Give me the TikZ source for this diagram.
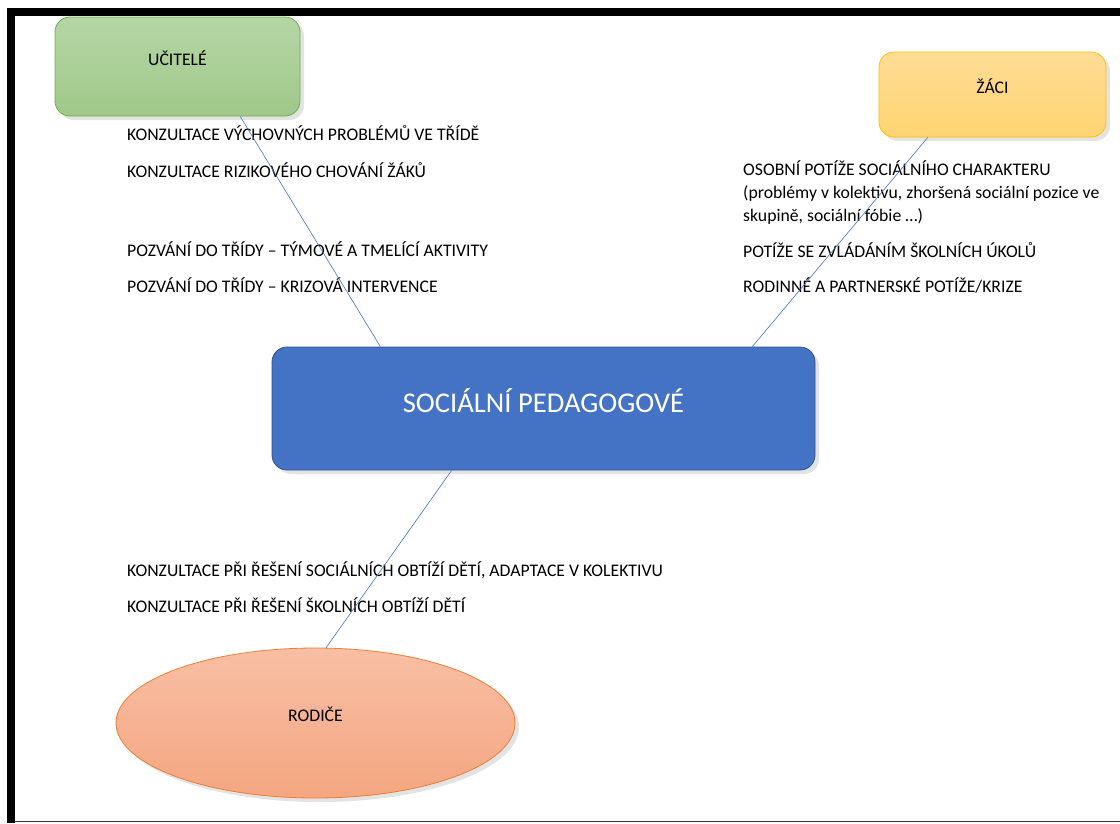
\documentclass[tikz,border=0pt]{standalone}
\usepackage{fontspec}
\setmainfont{Carlito}
\usetikzlibrary{%
  positioning
 ,shapes
 ,shadows
 ,calc
}
\definecolor{grnTop}{HTML}{B5D6A5}
\definecolor{grnBot}{HTML}{A0C88A}
\definecolor{grnLine}{HTML}{70AD47}
\definecolor{ylwTop}{HTML}{FFDC96}
\definecolor{ylwBot}{HTML}{FFD471}
\definecolor{ylwLine}{HTML}{FFC000}
\definecolor{bluFill}{HTML}{4472C4}
\definecolor{bluLine}{HTML}{2F528F}
\definecolor{orgTop}{HTML}{F8BFA4}
\definecolor{orgBot}{HTML}{F4A681}
\definecolor{orgLine}{HTML}{ED7D31}
\tikzstyle{shp}=[draw,line width=0.8pt,text height=8pt,text depth=11pt,
  font=\fontsize{17.7}{20}\selectfont,
  drop shadow={shadow xshift=4pt,shadow yshift=-4pt,opacity=0.22}]
\tikzstyle{rbox}=[shp,rectangle,rounded corners=15pt]
\tikzstyle{txt}=[anchor=west,inner sep=0pt,align=left,
  font=\fontsize{17.7}{23}\selectfont]
\tikzstyle{lnk}=[draw=bluFill,line width=0.6pt]

\begin{document}
\begin{tikzpicture}[x=1pt,y=-1pt]
  \useasboundingbox (0,0) rectangle (1120,823);
  % frame
  \fill[black] (7,8) rectangle (1120,16);
  \fill[black] (7,8) rectangle (15,823);
  \draw[black!80,line width=1.2pt] (15,821.5) -- (1120,821.5);
  % boxes
  \node[rbox,draw=grnLine,top color=grnTop,bottom color=grnBot,
        minimum width=245pt,minimum height=99pt] (uc) at (177.5,66.5) {UČITELÉ};
  \node[rbox,draw=ylwLine,top color=ylwTop,bottom color=ylwBot,
        minimum width=227pt,minimum height=85pt] (za) at (992.5,94.5) {ŽÁCI};
  \node[rbox,draw=bluLine,fill=bluFill,text=white,
        font=\fontsize{28.6}{32}\selectfont,text height=15pt,text depth=7.5pt,
        minimum width=543pt,minimum height=123pt] (soc) at (543.5,408.5) {SOCIÁLNÍ PEDAGOGOVÉ};
  \node[shp,ellipse,draw=orgLine,top color=orgTop,bottom color=orgBot,
        minimum width=399pt,minimum height=150pt] (rod) at (315.5,723) {RODIČE};
  % texts
  \node[txt] (u1) at (127,133) {KONZULTACE VÝCHOVNÝCH PROBLÉMŮ VE TŘÍDĚ};
  \node[txt] (u2) at (127,170) {KONZULTACE RIZIKOVÉHO CHOVÁNÍ ŽÁKŮ};
  \node[txt] (u3) at (127,249) {POZVÁNÍ DO TŘÍDY – TÝMOVÉ A TMELÍCÍ AKTIVITY};
  \node[txt] (u4) at (127,285) {POZVÁNÍ DO TŘÍDY – KRIZOVÁ INTERVENCE};
  \node[txt] (z1) at (743,193) {OSOBNÍ POTÍŽE SOCIÁLNÍHO CHARAKTERU\\
    (problémy v kolektivu, zhoršená sociální pozice ve\\
    skupině, sociální fóbie …)};
  \node[txt] (z2) at (743,250) {POTÍŽE SE ZVLÁDÁNÍM ŠKOLNÍCH ÚKOLŮ};
  \node[txt] (z3) at (743,285) {RODINNÉ A PARTNERSKÉ POTÍŽE/KRIZE};
  \node[txt] (r1) at (127,570) {KONZULTACE PŘI ŘEŠENÍ SOCIÁLNÍCH OBTÍŽÍ DĚTÍ, ADAPTACE V KOLEKTIVU};
  \node[txt] (r2) at (127,605) {KONZULTACE PŘI ŘEŠENÍ ŠKOLNÍCH OBTÍŽÍ DĚTÍ};
  % links
  \draw[lnk] ($(uc.south west)!0.755!(uc.south east)$) -- ($(soc.north west)!0.2!(soc.north east)$);
  \draw[lnk] ($(za.south west)!0.216!(za.south east)$) -- ($(soc.north west)!0.884!(soc.north east)$);
  \draw[lnk] ($(soc.south west)!0.331!(soc.south east)$) -- (rod.82);
\end{tikzpicture}
\end{document}
